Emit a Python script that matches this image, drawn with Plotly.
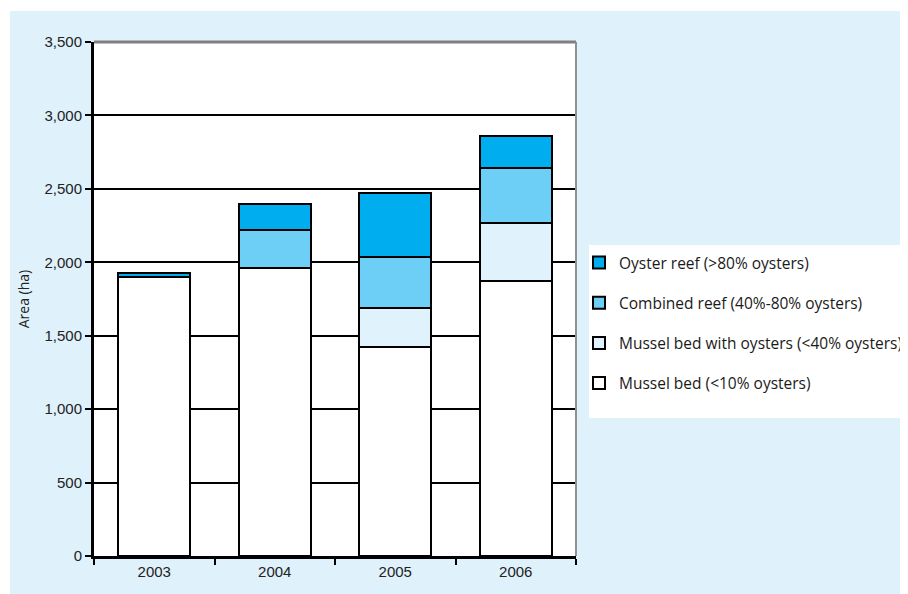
import plotly.graph_objects as go

years = ["2003", "2004", "2005", "2006"]
mussel_bed = [1900, 1960, 1425, 1875]
mussel_with_oysters = [0, 0, 262, 390]
combined_reef = [0, 260, 351, 375]
oyster_reef = [24, 177, 436, 222]

series_names = [
    "Mussel bed (<10% oysters)",
    "Mussel bed with oysters (<40% oysters)",
    "Combined reef (40%-80% oysters)",
    "Oyster reef (>80% oysters)",
]
series_values = [mussel_bed, mussel_with_oysters, combined_reef, oyster_reef]
series_colors = ["#FFFFFF", "#E0F2FC", "#6DCFF6", "#00AEEF"]
legend_ranks = [4, 3, 2, 1]

y_ticks = [0, 500, 1000, 1500, 2000, 2500, 3000, 3500]
y_ticklabels = ["0", "500", "1,000", "1,500", "2,000", "2,500", "3,000", "3,500"]

# page body has an 8px offset; work in screen pixels and subtract it
OFF = 8
W, H = 908 - OFF, 594 - OFF
L, R, T, B = 94 - OFF, 576 - OFF, 42 - OFF, 556 - OFF

fig = go.Figure()
for i, (name, vals, col) in enumerate(zip(series_names, series_values, series_colors)):
    fig.add_trace(go.Bar(
        x=years, y=vals, name=name,
        marker=dict(color=col, line=dict(color="#000000", width=2)),
        width=0.6, legendrank=legend_ranks[i], legendgroup=f"g{i}",
    ))

def px_x(p):
    return (p - OFF - L) / (R - L)

def px_y(p):
    return (B - (p - OFF)) / (B - T)

shapes = [
    dict(type="rect", xref="paper", yref="paper", layer="below",
         x0=px_x(10), x1=px_x(920), y0=px_y(610), y1=px_y(11),
         fillcolor="#DFF1FB", line=dict(width=0)),
    dict(type="rect", xref="paper", yref="paper", layer="below",
         x0=0, x1=1, y0=0, y1=1,
         fillcolor="#FFFFFF", line=dict(width=0)),
    dict(type="rect", xref="paper", yref="paper", layer="below",
         x0=px_x(589), x1=px_x(920), y0=px_y(418), y1=px_y(245),
         fillcolor="#FFFFFF", line=dict(width=0)),
    dict(type="line", xref="paper", yref="paper", x0=0, x1=1, y0=1, y1=1,
         line=dict(color="#808080", width=3)),
    dict(type="line", xref="paper", yref="paper", x0=1, x1=1, y0=0, y1=1,
         line=dict(color="#909090", width=2)),
]

fig.update_layout(
    width=W, height=H,
    margin=dict(l=L, r=W - R, t=T, b=H - B, pad=0, autoexpand=False),
    paper_bgcolor="#FFFFFF",
    plot_bgcolor="#FFFFFF",
    barmode="stack",
    shapes=shapes,
    font=dict(family="Liberation Sans, Arial, sans-serif", color="#222222", size=15),
    legend=dict(
        x=px_x(579), y=px_y(246), xanchor="left", yanchor="top",
        bgcolor="rgba(0,0,0,0)",
        traceorder="grouped", tracegroupgap=17,
        font=dict(family="Open Sans, sans-serif", size=15.5, color="#1a1a1a"),
    ),
    xaxis=dict(
        type="category", showgrid=False, showline=True, linecolor="#000000", linewidth=2.5,
        ticks="outside", tickson="boundaries", ticklen=6, tickwidth=2, tickcolor="#000000",
        tickfont=dict(size=15), range=[-0.5, 3.5],
    ),
    yaxis=dict(
        range=[0, 3500], tickvals=y_ticks, ticktext=y_ticklabels,
        showgrid=True, gridcolor="#000000", gridwidth=2,
        showline=True, linecolor="#000000", linewidth=3,
        ticks="outside", ticklen=6, tickwidth=2, tickcolor="#000000",
        tickfont=dict(size=15), zeroline=False,
        title=dict(text="Area (ha)", font=dict(size=14, family="Open Sans, sans-serif"), standoff=12),
    ),
)

fig.write_html("out.html")
